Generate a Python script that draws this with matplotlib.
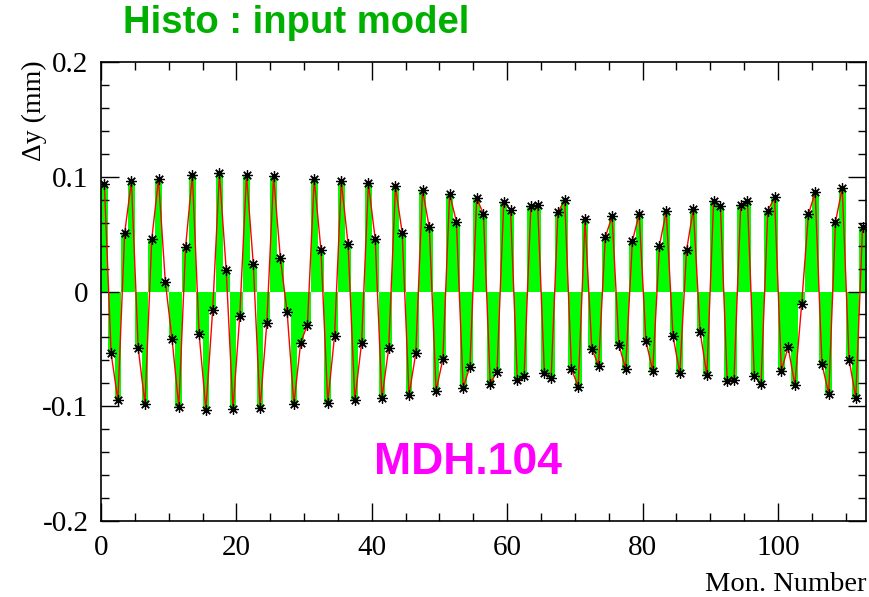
"""
Histo : input model -- MDH.104 residuals per monitor
"""

import matplotlib
matplotlib.use("Agg")
import matplotlib.pyplot as plt
from matplotlib.ticker import MultipleLocator
import numpy as np

# one value per monitor bin (bins 0..112)
dy_values = [
    0.0936, -0.054, -0.0948, 0.0512, 0.096, -0.0494, -0.098, 0.0456,
    0.098, 0.0087, -0.0416, -0.1006, 0.039, 0.1017, -0.0372, -0.103,
    -0.016, 0.103, 0.0186, -0.1026, -0.021, 0.1017, 0.0238, -0.1017,
    -0.0273, 0.1006, 0.029, -0.0180, -0.0983, -0.0445, -0.029, 0.098,
    0.036, -0.0968, -0.0387, 0.096, 0.0413, -0.0948, -0.0445, 0.0942,
    0.0462, -0.093, -0.0494, 0.0916, 0.0509, -0.0904, -0.0538, 0.0884,
    0.0558, -0.0866, -0.059, 0.0849, 0.061, -0.0837, -0.0654, 0.0814,
    0.0674, -0.0802, -0.0698, 0.0782, 0.0709, -0.077, -0.0738, 0.0741,
    0.0756, -0.0712, -0.075, 0.0689, 0.080, -0.0677, -0.0828, 0.0628,
    -0.0497, -0.0645, 0.0477, 0.0654, -0.0462, -0.0674, 0.0442, 0.0674,
    -0.043, -0.0692, 0.0401, 0.0698, -0.0387, -0.0712, 0.036, 0.0718,
    -0.0349, -0.073, 0.079, 0.0747, -0.0779, -0.0767, 0.0753, 0.0785,
    -0.0735, -0.0808, 0.0703, 0.082, -0.0692, -0.0483, -0.0814, -0.011,
    0.0674, 0.0863, -0.0634, -0.089, 0.0608, 0.0901, -0.0593, -0.0924,
    0.0564,
]

title_text = "Histo : input model"
label_text = "MDH.104"
x_label = "Mon. Number"
y_label = "\u0394y (mm)"

n_bins = len(dy_values)
centers = np.arange(n_bins) + 0.5

fig = plt.figure(figsize=(8.69, 5.97), dpi=100)
ax = fig.add_axes([0.1162, 0.1273, 0.8803, 0.7688])

# green histogram fill
ax.bar(centers, dy_values, width=1.0, color="#00ff00", edgecolor="none",
       zorder=1)

# red connecting line and black asterisk markers
ax.plot(centers, dy_values, color="red", linewidth=1.0, zorder=2)
ax.plot(centers, dy_values, linestyle="none", marker=(8, 2, 0),
        markersize=7.5, markeredgewidth=0.9, color="black", zorder=3)

ax.set_xlim(0, n_bins)
ax.set_ylim(-0.2, 0.2)

ax.xaxis.set_major_locator(MultipleLocator(20))
ax.xaxis.set_minor_locator(MultipleLocator(5))
ax.yaxis.set_major_locator(MultipleLocator(0.1))
ax.yaxis.set_minor_locator(MultipleLocator(0.02))
ax.yaxis.set_major_formatter(
    plt.FuncFormatter(lambda v, p: "0" if abs(v) < 1e-9 else f"{v:.1f}")
)

ax.tick_params(which="both", direction="in", top=True, right=True,
               width=1.0, labelsize=21)
ax.tick_params(which="major", length=13)
ax.tick_params(which="minor", length=6)
ax.tick_params(axis="x", pad=10)
ax.tick_params(axis="y", pad=9)
for lab in ax.get_xticklabels() + ax.get_yticklabels():
    lab.set_fontfamily("Liberation Serif")

for spine in ax.spines.values():
    spine.set_linewidth(1.2)

fig.text(0.997, 0.0, x_label, ha="right", va="bottom",
         fontsize=20.5, family="Liberation Serif")
fig.text(0.040, 0.899, y_label, ha="center", va="top", rotation=90,
         fontsize=20, family="Liberation Serif")

fig.text(0.142, 0.962, title_text, ha="left", va="center",
         fontsize=27.5, fontweight="bold", color="#00b000",
         family="Liberation Sans")

ax.text(0.48, 0.1285, label_text, transform=ax.transAxes, ha="center",
        va="center", fontsize=32, fontweight="bold", color="#ff00ff",
        family="Liberation Sans")

fig.savefig("out.png", dpi=100)
